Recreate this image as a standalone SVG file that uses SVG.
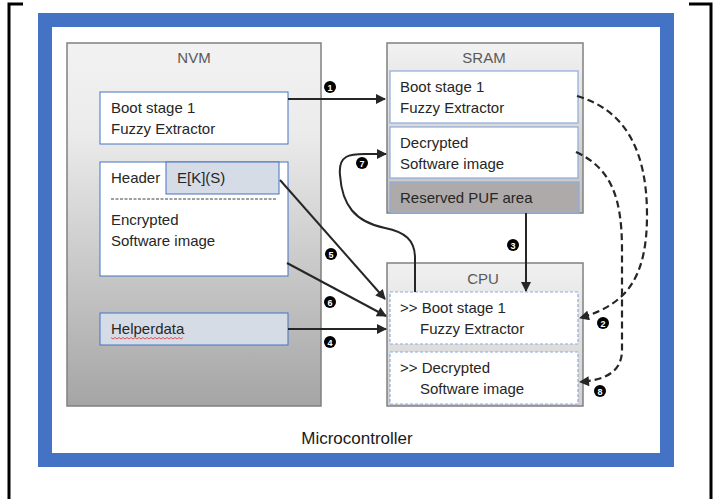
<svg xmlns="http://www.w3.org/2000/svg" width="721" height="499" viewBox="0 0 721 499">
<style>
.t{font-family:"Liberation Sans",Arial,sans-serif;font-size:15px;fill:#262626}
.h{font-family:"Liberation Sans",Arial,sans-serif;font-size:15px;fill:#595959;text-anchor:middle}
.n{font-family:"Liberation Sans",Arial,sans-serif;font-size:9px;font-weight:bold;fill:#fff;text-anchor:middle}
.big{stroke:#808080;stroke-width:1.5}
.sub{fill:#fff;stroke:#4472c4;stroke-width:1}
.ssub{fill:#fff;stroke:#8eaadb;stroke-width:1.2}
.csub{fill:#fff;stroke:#8eaadb;stroke-width:1.2;stroke-dasharray:3 2}
.c{fill:none;stroke:#262626;stroke-width:2}
.d{fill:none;stroke:#262626;stroke-width:2.2;stroke-dasharray:7 4}
</style>
<defs>
<linearGradient id="gN" x1="0" y1="0" x2="0" y2="1">
<stop offset="0" stop-color="#f2f2f2"/><stop offset="0.25" stop-color="#ebebeb"/><stop offset="1" stop-color="#a5a5a5"/>
</linearGradient>
<linearGradient id="gS" x1="0" y1="0" x2="0" y2="1">
<stop offset="0" stop-color="#f2f2f2"/><stop offset="1" stop-color="#c0c0c0"/>
</linearGradient>
<linearGradient id="gC" x1="0" y1="0" x2="0" y2="1">
<stop offset="0" stop-color="#f0f0f0"/><stop offset="1" stop-color="#d0d0d0"/>
</linearGradient>
<marker id="a" viewBox="0 0 10 10" refX="9" refY="5" markerUnits="userSpaceOnUse" markerWidth="11" markerHeight="10" orient="auto">
<path d="M0,0 L10,5 L0,10 z" fill="#262626"/>
</marker>
</defs>
<rect width="721" height="499" fill="#fff"/>
<g id="frame">
<path d="M9,499 L9,4 L23,4 M689,4 L711,4 L711,499" fill="none" stroke="#000" stroke-width="3"/>
</g>
<g id="microcontroller">
<rect x="45" y="20" width="622" height="440" fill="#fff" stroke="#4472c4" stroke-width="14"/>
<text class="t" x="357" y="444" text-anchor="middle" style="font-size:17px;fill:#1a1a1a">Microcontroller</text>
</g>
<g id="nvm">
<rect class="big" x="67" y="43" width="254" height="363" fill="url(#gN)"/>
<text class="h" x="194" y="63">NVM</text>
</g>
<g id="nvm-boot">
<rect class="sub" x="100" y="92" width="188" height="52"/>
<text class="t" x="111" y="113">Boot stage 1</text>
<text class="t" x="111" y="134">Fuzzy Extractor</text>
</g>
<g id="nvm-image">
<rect class="sub" x="100" y="162" width="188" height="114"/>
<text class="t" x="111" y="183">Header</text>
<line x1="111" y1="199" x2="277" y2="199" stroke="#404040" stroke-width="1" stroke-dasharray="3 1.5"/>
<text class="t" x="111" y="225">Encrypted</text>
<text class="t" x="111" y="246">Software image</text>
</g>
<g id="nvm-eks">
<rect x="166" y="162" width="113" height="32" fill="#d6dce5" stroke="#4472c4" stroke-width="1"/>
<text class="t" x="177" y="183">E[K](S)</text>
</g>
<g id="nvm-helper">
<rect x="100" y="313" width="188" height="32" fill="#d6dce5" stroke="#4472c4" stroke-width="1"/>
<text class="t" x="111" y="334">Helperdata</text>
<path d="M111,337.5 l2,1.5 l2,-1.5 l2,1.5 l2,-1.5 l2,1.5 l2,-1.5 l2,1.5 l2,-1.5 l2,1.5 l2,-1.5 l2,1.5 l2,-1.5 l2,1.5 l2,-1.5 l2,1.5 l2,-1.5 l2,1.5 l2,-1.5 l2,1.5 l2,-1.5 l2,1.5 l2,-1.5 l2,1.5 l2,-1.5 l2,1.5 l2,-1.5 l2,1.5 l2,-1.5 l2,1.5 l2,-1.5 l2,1.5 l2,-1.5 l2,1.5 l2,-1.5 l2,1.5 l2,-1.5" fill="none" stroke="#e03030" stroke-width="0.8"/>
</g>
<g id="sram">
<rect class="big" x="387" y="43" width="196" height="170" fill="url(#gS)"/>
<text class="h" x="484" y="63">SRAM</text>
</g>
<g id="sram-boot">
<rect class="ssub" x="390" y="71" width="188" height="52"/>
<text class="t" x="400" y="92">Boot stage 1</text>
<text class="t" x="400" y="113">Fuzzy Extractor</text>
</g>
<g id="sram-image">
<rect class="ssub" x="390" y="127" width="188" height="51"/>
<text class="t" x="400" y="148">Decrypted</text>
<text class="t" x="400" y="169">Software image</text>
</g>
<g id="sram-puf">
<rect x="390" y="182" width="189" height="31" fill="#aeaaaa" stroke="#8eaadb" stroke-width="1.2"/>
<text class="t" x="400" y="203">Reserved PUF area</text>
</g>
<g id="cpu">
<rect class="big" x="387" y="263" width="196" height="143" fill="url(#gC)"/>
<text class="h" x="483" y="284">CPU</text>
</g>
<g id="cpu-boot">
<rect class="csub" x="390" y="292" width="188" height="52"/>
<text class="t" x="400" y="313">&gt;&gt; Boot stage 1</text>
<text class="t" x="420" y="334">Fuzzy Extractor</text>
</g>
<g id="cpu-image">
<rect class="csub" x="390" y="352" width="188" height="52"/>
<text class="t" x="400" y="373">&gt;&gt; Decrypted</text>
<text class="t" x="420" y="394">Software image</text>
</g>
<g id="connectors">
<path class="c" d="M288,99 L385,99" marker-end="url(#a)"/>
<path class="c" d="M526,213 L526,291" marker-end="url(#a)"/>
<path class="c" d="M288,329 L386,329" marker-end="url(#a)"/>
<path class="c" d="M280,180 L385,299" marker-end="url(#a)"/>
<path class="c" d="M287,263 L386,316" marker-end="url(#a)"/>
<path class="c" d="M415,292 L415,258 C415,240 405,232 385,228 C355,222 342,205 340,175 C338,155 350,154 365,154 L386,154" marker-end="url(#a)"/>
<path class="d" d="M577,96 C625,110 647,150 647,215 C647,280 625,305 580,318" marker-end="url(#a)"/>
<path class="d" d="M576,152 C610,168 622,195 622,250 L622,350 C622,372 605,380 580,382" marker-end="url(#a)"/>
<g>
<circle cx="330" cy="87" r="6"/><text class="n" x="330" y="90.5">1</text>
<circle cx="603" cy="323" r="6"/><text class="n" x="603" y="326.5">2</text>
<circle cx="513" cy="245" r="6"/><text class="n" x="513" y="248.5">3</text>
<circle cx="330" cy="342" r="6"/><text class="n" x="330" y="345.5">4</text>
<circle cx="331" cy="254" r="6"/><text class="n" x="331" y="257.5">5</text>
<circle cx="330" cy="302" r="6"/><text class="n" x="330" y="305.5">6</text>
<circle cx="362" cy="163" r="6"/><text class="n" x="362" y="166.5">7</text>
<circle cx="600" cy="391" r="6"/><text class="n" x="600" y="394.5">8</text>
</g>
</g>
</svg>
